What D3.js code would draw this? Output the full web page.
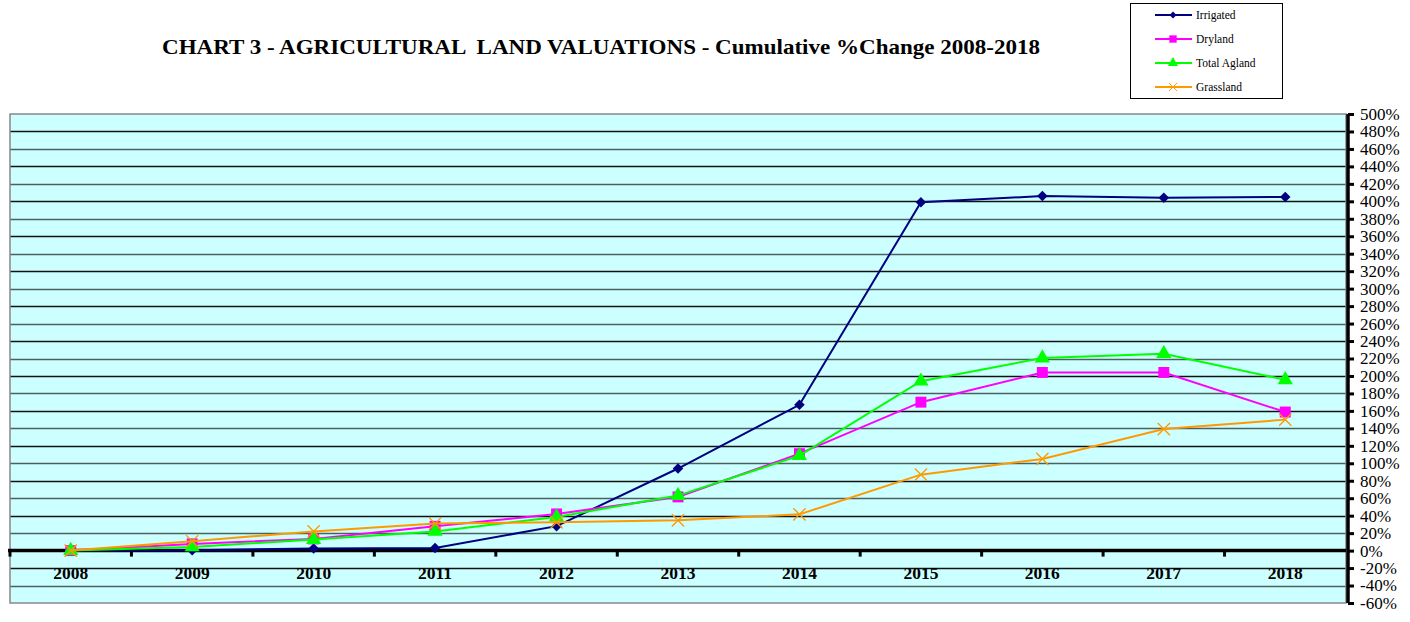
<!DOCTYPE html>
<html lang="en">
<head>
  <meta charset="UTF-8">
  <title>Chart 3 - Agricultural Land Valuations</title>
  <script src="https://d3js.org/d3.v7.min.js"></script>
  <style>
    body { margin: 0; background: #fff; }
    text { font-family: "Liberation Serif", "Times New Roman", serif; }
  </style>
</head>
<body>
  <svg width="1410" height="622"></svg>

  <script>
    // Data
    const years = ["2008", "2009", "2010", "2011", "2012", "2013", "2014", "2015", "2016", "2017", "2018"];
    const irrigated = [0, 0.5, 2.3, 3, 28, 94, 167, 399, 406, 404, 405];
    const dryland = [0, 7.7, 13.4, 27.8, 42, 61.5, 111, 170, 204, 204, 158.7];
    const totalAgland = [0, 4.2, 12.6, 22, 38.5, 63, 108.7, 194, 220.5, 225.5, 195.6];
    const grassland = [0, 10.7, 22, 31, 32.4, 34.7, 41.5, 87, 105, 139.2, 150];
    const yTicks = d3.range(-60, 501, 20);

    const series = [
      { name: "Irrigated", values: irrigated, color: "#000080", symbol: d3.symbolDiamond2, size: 70 },
      { name: "Dryland", values: dryland, color: "#FF00FF", symbol: d3.symbolSquare, size: 120 },
      { name: "Total Agland", values: totalAgland, color: "#00FF00", symbol: d3.symbolTriangle, size: 100 },
      { name: "Grassland", values: grassland, color: "#FF9900", symbol: d3.symbolX, size: 100 }
    ];

    const plot = { left: 10, right: 1346, top: 114, bottom: 603 };
    const svg = d3.select("svg");

    const x = d3.scaleBand().domain(years).range([plot.left, plot.right]);
    const y = d3.scaleLinear().domain([-60, 500]).range([plot.bottom, plot.top]);

    // Plot background
    svg.append("rect")
      .attr("x", plot.left).attr("y", plot.top)
      .attr("width", plot.right - plot.left).attr("height", plot.bottom - plot.top)
      .attr("fill", "#CCFFFF");

    // Gridlines
    svg.append("g").selectAll("line")
      .data(yTicks.filter(d => d !== 0 && d !== 500 && d !== -60))
      .enter().append("line")
      .attr("x1", plot.left).attr("x2", plot.right)
      .attr("y1", d => Math.round(y(d)) + 0.5).attr("y2", d => Math.round(y(d)) + 0.5)
      .attr("stroke", (d, i) => i % 2 ? "#111" : "#4d5f5f")
      .attr("stroke-width", 1.3);

    // Plot border
    svg.append("rect")
      .attr("x", plot.left).attr("y", plot.top)
      .attr("width", plot.right - plot.left).attr("height", plot.bottom - plot.top)
      .attr("fill", "none").attr("stroke", "#888").attr("stroke-width", 1.5);

    // X axis at 0%
    const xAxis = svg.append("g")
      .attr("transform", "translate(0," + y(0) + ")");
    xAxis.append("line")
      .attr("x1", plot.left - 2).attr("x2", plot.right)
      .attr("stroke", "#000").attr("stroke-width", 3.5);
    xAxis.selectAll(".tick")
      .data(years)
      .enter().append("line")
      .attr("x1", d => x(d)).attr("x2", d => x(d))
      .attr("y1", 0).attr("y2", 6)
      .attr("stroke", "#000").attr("stroke-width", 3);
    xAxis.selectAll(".lbl")
      .data(years)
      .enter().append("text")
      .attr("x", d => x(d) + x.bandwidth() / 2)
      .attr("y", 28)
      .attr("text-anchor", "middle")
      .style("font-size", "17.5px").style("font-weight", "bold")
      .text(d => d);

    // Right Y axis
    const yAxis = svg.append("g")
      .attr("transform", "translate(" + (plot.right + 2) + ",0)")
      .call(d3.axisRight(y).tickValues(yTicks).tickFormat(d => d + "%").tickSize(6).tickPadding(6));
    yAxis.select(".domain").attr("stroke-width", 3.5).attr("d", "M0," + plot.top + "V" + plot.bottom);
    yAxis.selectAll(".tick line").attr("stroke-width", 3);
    yAxis.selectAll(".tick text")
      .style("font-family", "'Liberation Serif', 'Times New Roman', serif")
      .style("font-size", "17px").attr("fill", "#000");

    // Lines and markers
    const line = d3.line()
      .x((d, i) => x(years[i]) + x.bandwidth() / 2)
      .y(d => y(d));

    series.forEach(s => {
      svg.append("path")
        .datum(s.values)
        .attr("fill", "none")
        .attr("stroke", s.color)
        .attr("stroke-width", 2)
        .attr("d", line);
      const sym = d3.symbol().type(s.symbol).size(s.size);
      svg.append("g").selectAll("path")
        .data(s.values)
        .enter().append("path")
        .attr("transform", (d, i) => "translate(" + (x(years[i]) + x.bandwidth() / 2) + "," + y(d) + ")")
        .attr("d", sym)
        .attr("fill", s.symbol === d3.symbolX ? "none" : s.color)
        .attr("stroke", s.symbol === d3.symbolX ? s.color : "none")
        .attr("stroke-width", 1.3);
    });

    // Title
    svg.append("text")
      .attr("x", 601).attr("y", 54)
      .attr("text-anchor", "middle")
      .attr("xml:space", "preserve")
      .attr("textLength", 878)
      .attr("lengthAdjust", "spacingAndGlyphs")
      .style("white-space", "pre")
      .style("font-size", "21px").style("font-weight", "bold")
      .text("CHART 3 - AGRICULTURAL  LAND VALUATIONS - Cumulative %Change 2008-2018");

    // Legend
    const legend = svg.append("g");
    legend.append("rect")
      .attr("x", 1130.5).attr("y", 3.5).attr("width", 152).attr("height", 95)
      .attr("fill", "#fff").attr("stroke", "#000").attr("stroke-width", 1);
    series.forEach((s, i) => {
      const ly = 15 + i * 24;
      legend.append("line")
        .attr("x1", 1155).attr("x2", 1192).attr("y1", ly).attr("y2", ly)
        .attr("stroke", s.color).attr("stroke-width", 2);
      legend.append("path")
        .attr("transform", "translate(1173," + ly + ")")
        .attr("d", d3.symbol().type(s.symbol).size(s.size * 0.45))
        .attr("fill", s.symbol === d3.symbolX ? "none" : s.color)
        .attr("stroke", s.symbol === d3.symbolX ? s.color : "none");
      legend.append("text")
        .attr("x", 1196).attr("y", ly + 4)
        .style("font-size", "11.5px")
        .text(s.name);
    });
  </script>
</body>
</html>
